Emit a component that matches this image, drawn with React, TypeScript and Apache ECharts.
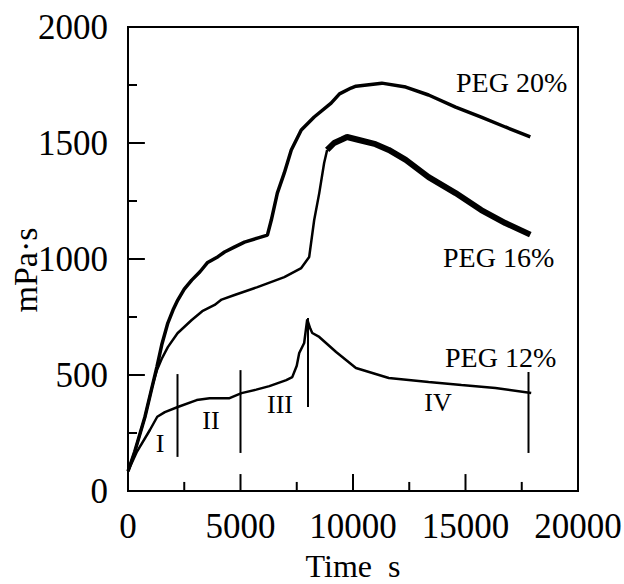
import React, { useEffect, useRef } from "react";
import * as echarts from "echarts";

// PEG 20 % viscosity (time s, mPa·s)
const peg20Time = [0, 300, 752, 1000, 1283, 1500, 1770, 2000, 2212, 2500, 2832, 3200, 3540, 4000, 4292, 4700, 5177, 5752, 6195, 6370, 6637, 6947, 7257, 7700, 8275, 9027, 9400, 9912, 10130, 11280, 12345, 13360, 14560, 15700, 16770, 17880];
const peg20Vals = [85, 170, 319, 420, 534, 630, 724, 780, 823, 870, 909, 945, 985, 1010, 1030, 1050, 1073, 1090, 1103, 1168, 1284, 1371, 1470, 1556, 1612, 1672, 1712, 1737, 1745, 1758, 1741, 1707, 1655, 1612, 1569, 1526];

// PEG 16 % – rising part
const peg16aTime = [0, 300, 752, 1100, 1283, 1500, 1770, 2200, 2832, 3300, 3850, 4160, 4735, 5752, 6947, 7700, 8053, 8275, 8500, 8717, 8850];
const peg16aVals = [85, 170, 319, 460, 520, 570, 620, 680, 737, 775, 802, 825, 845, 879, 922, 961, 1009, 1168, 1284, 1414, 1470];
// PEG 16 % – plateau and decay
const peg16bTime = [8850, 9160, 9500, 9735, 10265, 11000, 11590, 12345, 13360, 14560, 15700, 16770, 17880];
const peg16bVals = [1470, 1500, 1515, 1526, 1513, 1495, 1470, 1427, 1353, 1284, 1211, 1155, 1105];

// PEG 12 %
const peg12Time = [0, 400, 973, 1300, 1637, 2212, 3053, 3628, 4513, 5044, 5700, 6283, 7035, 7300, 7500, 7610, 7830, 7965, 8100, 8190, 8500, 9250, 10130, 11590, 13360, 14820, 16330, 17920];
const peg12Vals = [85, 170, 263, 320, 340, 362, 392, 400, 400, 422, 437, 452, 478, 491, 540, 595, 638, 740, 700, 681, 664, 599, 530, 487, 470, 457, 444, 422];

// stage boundary markers
const markerTimes = [2200, 5000, 8000, 17800];
const markerTops = [504, 521, 746, 513];
const markerBottoms = [147, 164, 362, 164];

// axis ticks
const xTicks = [0, 5000, 10000, 15000, 20000];
const xMinorTicks = [2500, 7500, 12500, 17500];
const yTicks = [0, 500, 1000, 1500, 2000];
const yMinorTicks = [250, 750, 1250, 1750];

const zip = (t: number[], v: number[]) => t.map((x, i) => [x, v[i]]);

const FONT = '"Liberation Serif", "Times New Roman", serif';

export default function App() {
  const ref = useRef<HTMLDivElement>(null);
  useEffect(() => {
    if (!ref.current) return;
    const chart = echarts.init(ref.current, null, { renderer: "svg" });
    const mkLine = () => ({ show: true, lineStyle: { color: "#000", width: 2 } });
    const labelStyle = { color: "#000", fontSize: 35, fontFamily: FONT, formatter: (v: number) => String(v) };
    const seg = (data: number[][]) => ({
      type: "line",
      data,
      symbol: "none",
      lineStyle: { color: "#000", width: 2 },
      silent: true,
    });
    const markerSeries = markerTimes.map((t, i) => seg([[t, markerBottoms[i]], [t, markerTops[i]]]));
    // tick lengths expressed along the other axis (≈17 px major, ≈9 px minor)
    const xMajorLen = 73, xMinorLen = 39; // in mPa·s units
    const yMajorLen = 750, yMinorLen = 400; // in seconds
    const tickSeries = [
      ...xTicks.slice(1, -1).map((v) => seg([[v, 0], [v, xMajorLen]])),
      ...xMinorTicks.map((v) => seg([[v, 0], [v, xMinorLen]])),
      ...yTicks.slice(1, -1).map((v) => seg([[0, v], [yMajorLen, v]])),
      ...yMinorTicks.map((v) => seg([[0, v], [yMinorLen, v]])),
    ];
    const txt = (text: string, x: number, y: number, size: number, align = "left") => ({
      type: "text",
      x,
      y,
      style: { text, fill: "#000", fontSize: size, fontFamily: FONT, align, verticalAlign: "middle" },
    });
    chart.setOption({
      animation: false,
      backgroundColor: "#fff",
      grid: { show: true, borderColor: "#000", borderWidth: 2, left: 128, right: 46, top: 27, bottom: 93, outerBoundsMode: "none" },
      xAxis: {
        type: "value",
        min: xTicks[0],
        max: xTicks[xTicks.length - 1],
        interval: 5000,
        axisLine: mkLine(),
        axisTick: { show: false },
        splitLine: { show: false },
        axisLabel: { ...labelStyle, margin: 18 },
      },
      yAxis: {
        type: "value",
        min: yTicks[0],
        max: yTicks[yTicks.length - 1],
        interval: 500,
        axisLine: mkLine(),
        axisTick: { show: false },
        splitLine: { show: false },
        axisLabel: { ...labelStyle, margin: 20 },
      },
      series: [
        { type: "line", data: zip(peg20Time, peg20Vals), symbol: "none", lineStyle: { color: "#000", width: 3.5 } },
        { type: "line", data: zip(peg16aTime, peg16aVals), symbol: "none", lineStyle: { color: "#000", width: 2.5 } },
        { type: "line", data: zip(peg16bTime, peg16bVals), symbol: "none", lineStyle: { color: "#000", width: 6 } },
        { type: "line", data: zip(peg12Time, peg12Vals), symbol: "none", lineStyle: { color: "#000", width: 2.5 } },
        ...markerSeries,
        ...tickSeries,
      ],
      graphic: [
        txt("PEG 20%", 456, 82, 28),
        txt("PEG 16%", 443, 257, 28),
        txt("PEG 12%", 445, 357, 28),
        txt("I", 160, 443, 26, "center"),
        txt("II", 211, 420, 26, "center"),
        txt("III", 280, 404, 26, "center"),
        txt("IV", 438, 402, 26, "center"),
        txt("Time  s", 353, 566, 32, "center"),
        {
          type: "text",
          x: 25,
          y: 270,
          rotation: Math.PI / 2,
          style: { text: "mPa·s", fill: "#000", fontSize: 34, fontFamily: FONT, align: "center", verticalAlign: "middle" },
        },
      ],
    });
    return () => chart.dispose();
  }, []);
  return <div ref={ref} style={{ width: 624, height: 584, position: "absolute", left: 0, top: 0 }} />;
}
